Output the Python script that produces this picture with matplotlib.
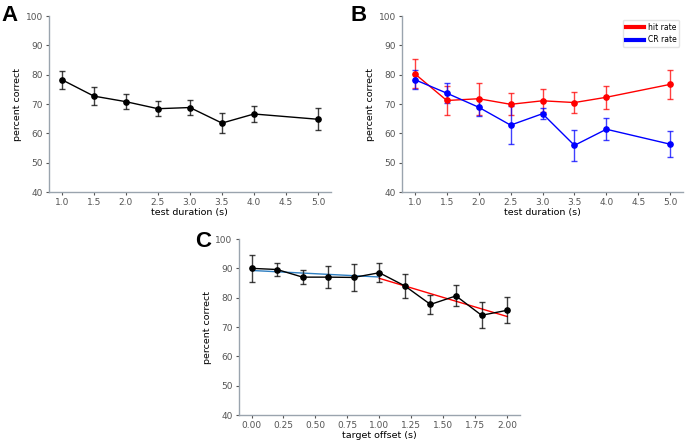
import numpy as np
import matplotlib
matplotlib.use("Agg")
import matplotlib.pyplot as plt

# panel A: overall percent correct vs test duration
durations = [1.0, 1.5, 2.0, 2.5, 3.0, 3.5, 4.0, 5.0]
pc_all = [78.3, 72.7, 70.8, 68.4, 68.8, 63.5, 66.6, 64.8]
pc_all_err = [3.1, 3.2, 2.6, 2.5, 2.5, 3.3, 2.8, 3.7]

# panel B: hit rate and correct rejection rate
hit_rate = [80.3, 71.2, 71.8, 69.9, 71.1, 70.5, 72.3, 76.7]
hit_err = [4.9, 5.0, 5.4, 3.8, 3.9, 3.7, 4.0, 4.9]
cr_rate = [78.3, 73.7, 68.9, 62.8, 66.7, 55.9, 61.4, 56.3]
cr_err = [3.3, 3.5, 2.9, 6.5, 1.8, 5.3, 3.8, 4.4]

# panel C: percent correct vs target offset
offsets = [0.0, 0.2, 0.4, 0.6, 0.8, 1.0, 1.2, 1.4, 1.6, 1.8, 2.0]
pc_offset = [90.0, 89.6, 87.0, 87.0, 86.9, 88.5, 84.0, 77.7, 80.6, 74.0, 75.7]
pc_offset_err = [4.6, 2.3, 2.4, 3.7, 4.6, 3.2, 4.1, 3.2, 3.6, 4.4, 4.4]

spine_col = '#9aa4ae'
tick_col = '#555555'
plt.rcParams['font.family'] = ['DejaVu Sans']


def style_ax(ax, xlabel):
    for s in ['top', 'right']:
        ax.spines[s].set_visible(False)
    for s in ['left', 'bottom']:
        ax.spines[s].set_color(spine_col)
        ax.spines[s].set_linewidth(1.0)
    ax.tick_params(labelsize=6.5, colors=tick_col, length=2.5, width=0.8, pad=2)
    ax.set_ylim(40, 100)
    ax.set_yticks(range(40, 101, 10))
    ax.set_xlabel(xlabel, fontsize=6.8, labelpad=0.5)
    ax.set_ylabel('percent correct', fontsize=6.8, labelpad=2.5)


fig = plt.figure(figsize=(6.85, 4.4), dpi=100)
axA = fig.add_axes([0.0715, 0.5636, 0.4115, 0.4])
axB = fig.add_axes([0.587, 0.5636, 0.410, 0.4])
axC = fig.add_axes([0.3485, 0.0568, 0.4105, 0.4])

# A
axA.errorbar(durations, pc_all, yerr=pc_all_err, color='black', marker='o', ms=3.8,
             lw=1.0, ecolor=(0, 0, 0, 0.75), elinewidth=1.0, capsize=2.5, capthick=1.0)
axA.set_xlim(0.8, 5.2)
axA.set_xticks(np.arange(1.0, 5.01, 0.5))
style_ax(axA, 'test duration (s)')

# B
axB.errorbar(durations, hit_rate, yerr=hit_err, color='red', marker='o', ms=3.8,
             lw=1.0, ecolor=(1, 0, 0, 0.75), elinewidth=1.0, capsize=2.5, capthick=1.0)
axB.errorbar(durations, cr_rate, yerr=cr_err, color='blue', marker='o', ms=3.8,
             lw=1.0, ecolor=(0, 0, 1, 0.75), elinewidth=1.0, capsize=2.5, capthick=1.0)
axB.set_xlim(0.8, 5.2)
axB.set_xticks(np.arange(1.0, 5.01, 0.5))
style_ax(axB, 'test duration (s)')
hB = [plt.Line2D([], [], color='red', lw=3), plt.Line2D([], [], color='blue', lw=3)]
axB.legend(hB, ['hit rate', 'CR rate'], loc='upper right', fontsize=5.5,
           handlelength=2.4, handletextpad=0.5, labelspacing=0.5, borderpad=0.35,
           frameon=True, edgecolor='#dddddd', fancybox=True)

# C: linear fits on the first and second halves
x_off = np.array(offsets)
y_off = np.array(pc_offset)
first = x_off <= 1.0
second = x_off >= 1.0
p1 = np.polyfit(x_off[first], y_off[first], 1)
p2 = np.polyfit(x_off[second], y_off[second], 1)
xs1 = np.array([x_off[first].min(), x_off[first].max()])
xs2 = np.array([x_off[second].min(), x_off[second].max()])
axC.plot(xs1, np.polyval(p1, xs1), color='#2f7fc1', lw=1.0, zorder=1)
axC.plot(xs2, np.polyval(p2, xs2), color='red', lw=1.0, zorder=1)
axC.errorbar(offsets, pc_offset, yerr=pc_offset_err, color='black', marker='o', ms=3.8,
             lw=1.0, ecolor=(0, 0, 0, 0.75), elinewidth=1.0, capsize=2.5, capthick=1.0,
             zorder=2)
axC.set_xlim(-0.1, 2.1)
axC.set_xticks(np.arange(0, 2.01, 0.25))
style_ax(axC, 'target offset (s)')

for txt, x, y in [('A', 0.002, 0.953), ('B', 0.512, 0.953), ('C', 0.2847, 0.439)]:
    fig.text(x, y, txt, fontsize=16, fontweight='bold', family='Liberation Sans',
             va='baseline', ha='left')

fig.savefig('out.png', dpi=100)
